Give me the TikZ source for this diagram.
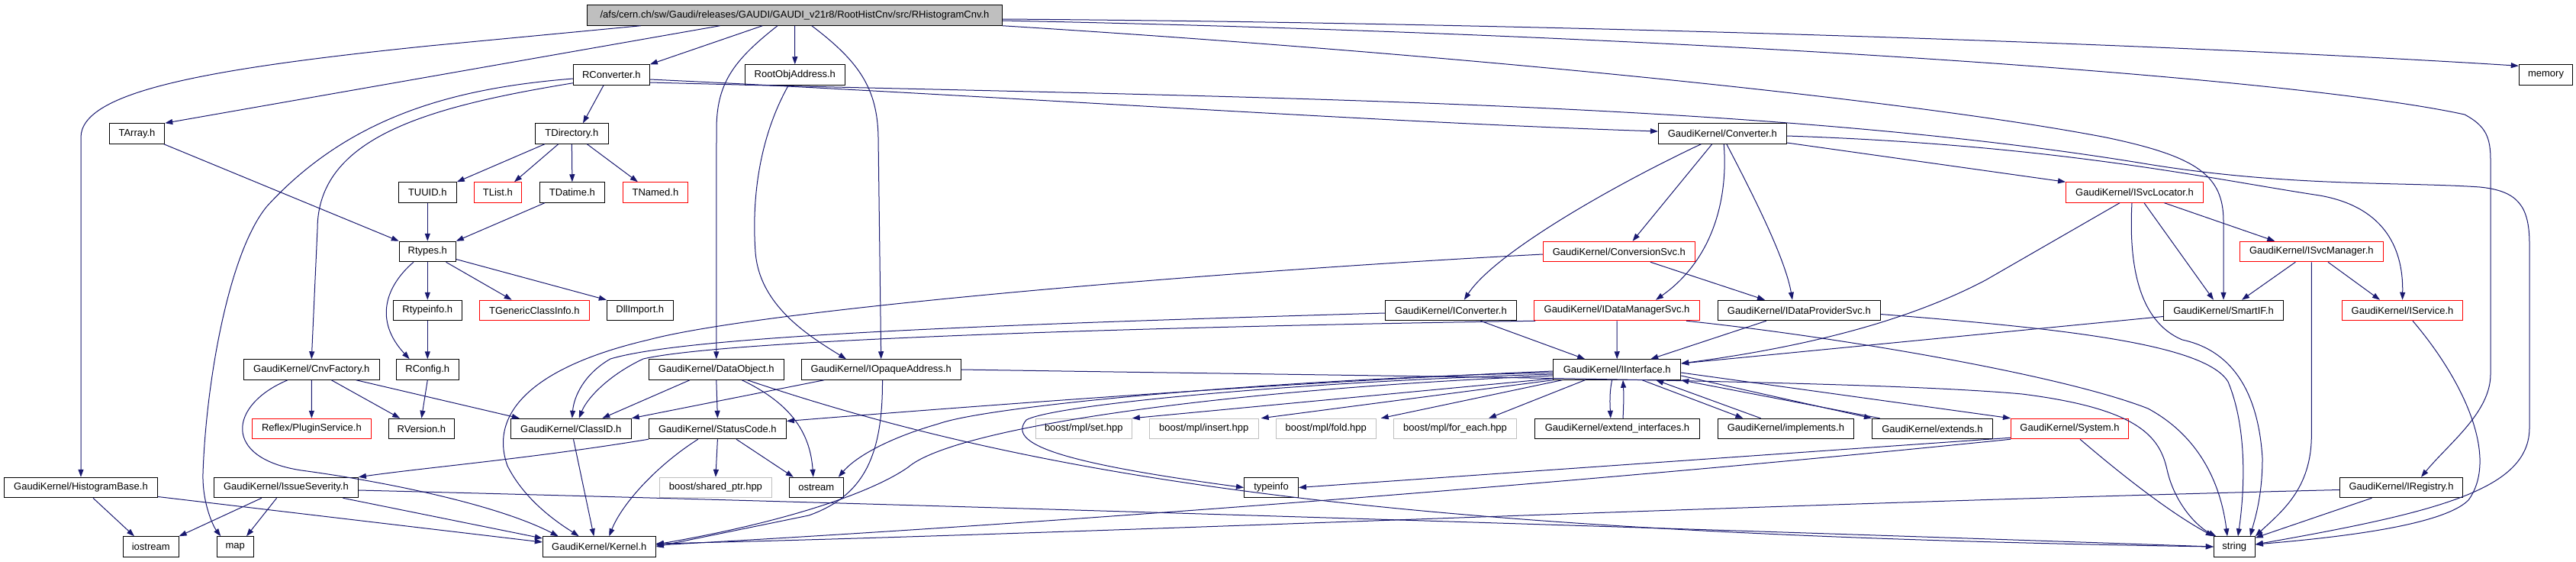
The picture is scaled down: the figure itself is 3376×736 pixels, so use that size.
\documentclass[tikz,border=0pt]{standalone}
\usepackage{fontspec}
\setmainfont{Liberation Sans}
\usetikzlibrary{arrows.meta,calc}
\definecolor{edgeblue}{RGB}{25,25,112}
\definecolor{boxgray}{RGB}{191,191,191}
\newcommand\dfont{\fontsize{13}{15}\selectfont}
\tikzset{
 box/.style={draw=black, line width=1pt, minimum height=26.5pt, inner sep=0pt, font=\dfont},
 redbox/.style={box, draw=red},
 graybox/.style={box, draw=boxgray},
 rootbox/.style={box, fill=boxgray},
 dep/.style={draw=edgeblue, line width=1pt, -{Triangle[length=10pt,width=7pt]}},
}
\begin{document}
\begin{tikzpicture}[x=1pt,y=-1pt]
\useasboundingbox (0,0) rectangle (3376,736);
\fill[white] (0,0) rectangle (3376,736);
% nodes
\node[rootbox, minimum width=544pt] (root) at (1041.5,20) {/afs/cern.ch/sw/Gaudi/releases/GAUDI/GAUDI\_v21r8/RootHistCnv/src/RHistogramCnv.h};
\node[box, minimum width=100pt] (rconv) at (801.4,98) {RConverter.h};
\node[box, minimum width=131pt] (rootobj) at (1041.8,98) {RootObjAddress.h};
\node[box, minimum width=70.5pt] (memory) at (3336.5,98) {memory};
\node[box, minimum width=72.5pt] (tarray) at (179.5,175) {TArray.h};
\node[box, minimum width=96pt] (tdir) at (749.4,175) {TDirectory.h};
\node[box, minimum width=168pt] (conv) at (2257.4,175) {GaudiKernel/Converter.h};
\node[box, minimum width=76pt] (tuuid) at (560.3,252) {TUUID.h};
\node[redbox, minimum width=62pt] (tlist) at (652.4,252) {TList.h};
\node[box, minimum width=85pt] (tdatime) at (749.9,252) {TDatime.h};
\node[redbox, minimum width=85pt] (tnamed) at (858.9,252) {TNamed.h};
\node[redbox, minimum width=180pt] (isvcloc) at (2797.5,252) {GaudiKernel/ISvcLocator.h};
\node[box, minimum width=74pt] (rtypes) at (560.3,329.5) {Rtypes.h};
\node[redbox, minimum width=199pt] (convsvc) at (2121.9,329.5) {GaudiKernel/ConversionSvc.h};
\node[redbox, minimum width=188pt] (isvcman) at (3029.3,329.5) {GaudiKernel/ISvcManager.h};
\node[box, minimum width=90pt] (rtypeinfo) at (560.3,406.5) {Rtypeinfo.h};
\node[redbox, minimum width=144pt] (tgeneric) at (700.3,406.5) {TGenericClassInfo.h};
\node[box, minimum width=87pt] (dllimport) at (838.8,406.5) {DllImport.h};
\node[box, minimum width=172pt] (iconv) at (1901.4,406.5) {GaudiKernel/IConverter.h};
\node[redbox, minimum width=217pt] (idms) at (2119,406.5) {GaudiKernel/IDataManagerSvc.h};
\node[box, minimum width=213pt] (idps) at (2357.8,406.5) {GaudiKernel/IDataProviderSvc.h};
\node[box, minimum width=157pt] (smartif) at (2914,406.5) {GaudiKernel/SmartIF.h};
\node[redbox, minimum width=158pt] (iservice) at (3148.5,406.5) {GaudiKernel/IService.h};
\node[box, minimum width=178pt] (cnvfac) at (408.3,484) {GaudiKernel/CnvFactory.h};
\node[box, minimum width=82pt] (rconfig) at (560.3,484) {RConfig.h};
\node[box, minimum width=177pt] (dataobj) at (938.8,484) {GaudiKernel/DataObject.h};
\node[box, minimum width=209pt] (iopaque) at (1154.7,484) {GaudiKernel/IOpaqueAddress.h};
\node[box, minimum width=167pt] (iinterface) at (2119.2,484) {GaudiKernel/IInterface.h};
\node[redbox, minimum width=156pt] (plugin) at (408.4,561.5) {Reflex/PluginService.h};
\node[box, minimum width=86pt] (rversion) at (552.4,561.5) {RVersion.h};
\node[box, minimum width=158pt] (classid) at (748.3,561.5) {GaudiKernel/ClassID.h};
\node[box, minimum width=180pt] (statuscode) at (940.4,561.5) {GaudiKernel/StatusCode.h};
\node[graybox, minimum width=126pt] (mplset) at (1420.3,561.5) {boost/mpl/set.hpp};
\node[graybox, minimum width=143pt] (mplinsert) at (1577.7,561.5) {boost/mpl/insert.hpp};
\node[graybox, minimum width=131pt] (mplfold) at (1737.7,561.5) {boost/mpl/fold.hpp};
\node[graybox, minimum width=161pt] (mplforeach) at (1907,561.5) {boost/mpl/for\_each.hpp};
\node[box, minimum width=216pt] (extendif) at (2119.5,561.5) {GaudiKernel/extend\_interfaces.h};
\node[box, minimum width=178pt] (implements) at (2340.4,561.5) {GaudiKernel/implements.h};
\node[box, minimum width=158pt] (extends) at (2532.4,561.5) {GaudiKernel/extends.h};
\node[redbox, minimum width=154pt] (system) at (2712.5,561.5) {GaudiKernel/System.h};
\node[box, minimum width=201pt] (histbase) at (106,638.5) {GaudiKernel/HistogramBase.h};
\node[box, minimum width=189pt] (issue) at (374.9,638.5) {GaudiKernel/IssueSeverity.h};
\node[graybox, minimum width=147pt] (sharedptr) at (937.9,638.5) {boost/shared\_ptr.hpp};
\node[box, minimum width=71pt] (ostream) at (1069.8,638.5) {ostream};
\node[box, minimum width=71pt] (typeinfo) at (1666,638.5) {typeinfo};
\node[box, minimum width=161pt] (iregistry) at (3147,638.5) {GaudiKernel/IRegistry.h};
\node[box, minimum width=73pt] (iostream) at (197.7,716) {iostream};
\node[box, minimum width=48pt] (map) at (308.3,716) {map};
\node[box, minimum width=148pt] (kernel) at (785.3,716) {GaudiKernel/Kernel.h};
\node[box, minimum width=54pt] (string) at (2928.3,716) {string};
% edges from root
\draw[dep] ($(root.south)+(-98,0)$) -- (tarray.north east);
\draw[dep] ($(root.south)+(-202,0)$) -- (563,60) .. controls (270,90) and (106,120) .. (106,180) -- (histbase.north);
\draw[dep] ($(root.south)+(-42.3,0)$) -- (rconv.north east);
\draw[dep] ($(root.south)+(-22.5,0)$) .. controls (960,80) and (939,110) .. (939,170) -- (dataobj.north);
\draw[dep] (root.south) -- (rootobj.north);
\draw[dep] ($(root.south)+(22.3,0)$) .. controls (1125,80) and (1150,115) .. (1151,180) -- (iopaque.north);
\draw[dep] ($(root.east)+(0,5)$) .. controls (2000,30) and (2800,55) .. ($(memory.north west)+(0,2)$);
\draw[dep] ($(root.east)+(0,7)$) .. controls (2200,45) and (3000,100) .. (3230,150) .. controls (3258,165) and (3264,180) .. (3264,210) -- (3264,490) .. controls (3264,540) and (3210,580) .. ($(iregistry.north)+(26,0)$);
\draw[dep] (root.south east) .. controls (1900,70) and (2500,130) .. (2760,180) .. controls (2880,205) and (2914,230) .. (2914,290) -- (smartif.north);
% RootObjAddress
\draw[dep] ($(rootobj.south)+(-8.5,0)$) .. controls (995,180) and (985,260) .. (990,330) .. controls (995,400) and (1060,440) .. ($(iopaque.north)+(-45.7,0)$);
% RConverter
\draw[dep] ($(rconv.south)+(-10.4,0)$) -- ($(tdir.north)+(14.6,0)$);
\draw[dep] ($(rconv.south west)+(0,-3)$) .. controls (560,140) and (416,180) .. (416,300) -- (cnvfac.north);
\draw[dep] ($(rconv.west)+(0,5)$) .. controls (600,115) and (460,150) .. (350,270) .. controls (300,330) and (270,500) .. (266,620) .. controls (265,660) and (280,690) .. ($(map.north)+(-19,0)$);
\draw[dep] ($(rconv.east)+(0,6)$) .. controls (1300,125) and (1800,160) .. ($(conv.west)+(0,-3)$);
\draw[dep] ($(rconv.east)+(0,10)$) .. controls (1600,128) and (2300,130) .. (2815,215) .. controls (3000,245) and (3150,238) .. (3250,245) .. controls (3300,250) and (3315,270) .. (3315,320) -- (3315,560) .. controls (3315,640) and (3200,670) .. ($(string.east)+(0,-3)$);
% Converter
\draw[dep] ($(conv.south)+(-28,0)$) .. controls (2120,240) and (1960,330) .. ($(iconv.north)+(17.4,0)$);
\draw[dep] ($(conv.south)+(-13.7,0)$) -- ($(convsvc.north)+(17.7,0)$);
\draw[dep] ($(conv.south)+(1.8,0)$) .. controls (2265,260) and (2245,340) .. ($(idms.north)+(51,0)$);
\draw[dep] ($(conv.south)+(5.4,0)$) .. controls (2300,260) and (2340,340) .. ($(idps.north)+(-8.8,0)$);
\draw[dep] ($(conv.east)+(0,12)$) -- (isvcloc.north west);
\draw[dep] ($(conv.east)+(0,3)$) .. controls (2700,190) and (2900,235) .. (3040,256) .. controls (3120,270) and (3150,320) .. (iservice.north);
% ConversionSvc
\draw[dep] ($(convsvc.west)+(0,3.5)$) .. controls (1600,355) and (1000,405) .. (850,445) .. controls (700,480) and (640,540) .. (665,610) .. controls (690,660) and (740,690) .. ($(kernel.north)+(-26.6,0)$);
\draw[dep] ($(convsvc.south)+(41,0)$) -- ($(idps.north)+(-44.8,0)$);
% IConverter, IDataManagerSvc, IDataProviderSvc
\draw[dep] ($(iconv.west)+(0,3.5)$) .. controls (1300,425) and (900,440) .. (800,470) .. controls (765,490) and (752,520) .. ($(classid.north)+(1.5,0)$);
\draw[dep] ($(idms.south west)+(2,0)$) .. controls (1500,428) and (950,445) .. (843,470) .. controls (800,490) and (770,520) .. ($(classid.north)+(10.5,0)$);
\draw[dep] ($(iconv.south)+(39,0)$) -- ($(iinterface.north)+(-42,0)$);
\draw[dep] (idms.south) -- (iinterface.north);
\draw[dep] ($(idms.south east)+(-18,0)$) .. controls (2400,440) and (2700,490) .. (2815,535) .. controls (2880,570) and (2910,630) .. ($(string.north)+(-9.3,0)$);
\draw[dep] ($(idps.south)+(-43,0)$) -- ($(iinterface.north)+(44,0)$);
\draw[dep] ($(idps.east)+(0,5)$) .. controls (2700,430) and (2890,450) .. (2920,500) .. controls (2945,560) and (2942,640) .. ($(string.north)+(4.7,0)$);
% ISvcLocator, ISvcManager, SmartIF, IService, IRegistry
\draw[dep] ($(isvcloc.south)+(39,0)$) -- ($(isvcman.north)+(-48,0)$);
\draw[dep] ($(isvcloc.south)+(12.5,0)$) -- ($(smartif.north)+(-13,0)$);
\draw[dep] ($(isvcloc.south)+(-19.5,0)$) -- (2602,367) .. controls (2520,410) and (2400,450) .. ($(iinterface.east)+(0,-8)$);
\draw[dep] ($(isvcloc.south)+(-3.5,0)$) .. controls (2790,340) and (2800,420) .. (2860,445) .. controls (2930,460) and (2960,520) .. (2965,600) .. controls (2965,650) and (2955,680) .. ($(string.north)+(20.7,0)$);
\draw[dep] ($(isvcman.south)+(-21,0)$) -- ($(smartif.north)+(24,0)$);
\draw[dep] ($(isvcman.south)+(21.7,0)$) -- ($(iservice.north)+(-29.5,0)$);
\draw[dep] (isvcman.south) -- (3029.3,570) .. controls (3029.3,640) and (2990,670) .. (string.north east);
\draw[dep] ($(smartif.west)+(0,8)$) -- ($(iinterface.east)+(0,-8)$);
\draw[dep] ($(iservice.south)+(13.5,0)$) .. controls (3230,500) and (3275,600) .. (3235,655) .. controls (3200,690) and (3050,705) .. ($(string.east)+(0,-3)$);
\draw[dep] ($(iregistry.south)+(-38.6,0)$) -- ($(string.north east)+(0,2)$);
\draw[dep] ($(iregistry.west)+(0,3)$) .. controls (2300,660) and (1400,700) .. ($(kernel.east)+(0,-4)$);
% ROOT headers
\draw[dep] ($(tarray.south east)+(-1.5,0)$) -- (rtypes.north west);
\draw[dep] ($(tdir.south)+(-35.6,0)$) -- (tuuid.north east);
\draw[dep] ($(tdir.south)+(-17.7,0)$) -- ($(tlist.north)+(21.6,0)$);
\draw[dep] (tdir.south) -- (tdatime.north);
\draw[dep] ($(tdir.south)+(20,0)$) -- ($(tnamed.north)+(-23,0)$);
\draw[dep] (tuuid.south) -- (rtypes.north);
\draw[dep] ($(tdatime.south)+(-36,0)$) -- (rtypes.north east);
\draw[dep] (rtypes.south) -- (rtypeinfo.north);
\draw[dep] ($(rtypes.south)+(-18.3,0)$) .. controls (505,375) and (490,420) .. ($(rconfig.north)+(-23.6,0)$);
\draw[dep] ($(rtypes.south)+(24.2,0)$) -- ($(tgeneric.north)+(-29.6,0)$);
\draw[dep] ($(rtypes.east)+(0,10)$) -- (dllimport.north west);
\draw[dep] (rtypeinfo.south) -- (rconfig.north);
\draw[dep] (rconfig.south) -- (rversion.north);
% CnvFactory
\draw[dep] (cnvfac.south) -- (plugin.north);
\draw[dep] ($(cnvfac.south)+(26,0)$) -- ($(rversion.north)+(-28.2,0)$);
\draw[dep] ($(cnvfac.south)+(58.4,0)$) -- ($(classid.north west)+(12,0)$);
\draw[dep] ($(cnvfac.south)+(-31.3,0)$) .. controls (300,530) and (290,600) .. (395,616) .. controls (500,630) and (650,660) .. ($(kernel.north)+(-53.6,0)$);
% HistogramBase, IssueSeverity
\draw[dep] ($(histbase.south)+(16,0)$) -- ($(iostream.north)+(-21.7,0)$);
\draw[dep] ($(histbase.east)+(0,12)$) -- ($(kernel.west)+(0,-6)$);
\draw[dep] ($(issue.south)+(-32,0)$) -- (iostream.north east);
\draw[dep] ($(issue.south)+(-12.3,0)$) -- ($(map.north)+(14.7,0)$);
\draw[dep] ($(issue.south east)+(-20.5,0)$) -- ($(kernel.west)+(0,-11)$);
\draw[dep] ($(issue.east)+(0,3.5)$) .. controls (1200,660) and (2300,695) .. (string.west);
% StatusCode, ClassID, DataObject
\draw[dep] (statuscode.south west) .. controls (700,600) and (560,612) .. (issue.north east);
\draw[dep] (statuscode.south) -- (sharedptr.north);
\draw[dep] ($(statuscode.south)+(24.6,0)$) -- ($(ostream.north west)+(6,0)$);
\draw[dep] ($(statuscode.south)+(-25.6,0)$) .. controls (860,610) and (815,660) .. ($(kernel.north)+(13,0)$);
\draw[dep] ($(classid.south)+(3.2,0)$) -- ($(kernel.north)+(-7,0)$);
\draw[dep] ($(dataobj.south)+(-34.8,0)$) -- ($(classid.north)+(41,0)$);
\draw[dep] (dataobj.south) -- (statuscode.north);
\draw[dep] ($(dataobj.south)+(33.5,0)$) .. controls (1040,530) and (1062,570) .. ($(ostream.north)+(-4,0)$);
\draw[dep] ($(dataobj.south)+(40.6,0)$) .. controls (1400,640) and (1900,700) .. (string.west);
% IOpaqueAddress
\draw[dep] ($(iopaque.south)+(-74.7,0)$) -- (classid.north east);
\draw[dep] ($(iopaque.south)+(1.8,0)$) .. controls (1157,600) and (1130,650) .. (1060,675) -- (kernel.east);
\draw[dep] (iopaque.east) .. controls (1900,494) and (2450,498) .. (2650,516) .. controls (2800,535) and (2830,570) .. (2840,615) .. controls (2850,660) and (2880,690) .. ($(string.north)+(-24,0)$);
% IInterface
\draw[dep] ($(iinterface.south west)+(0,-2)$) -- (mplset.north east);
\draw[dep] (iinterface.south west) -- ($(mplinsert.north east)+(3,0)$);
\draw[dep] ($(iinterface.south west)+(12,0)$) -- ($(mplfold.north east)+(6,0)$);
\draw[dep] ($(iinterface.south)+(-42,0)$) -- ($(mplforeach.north)+(44,0)$);
\draw[dep] ($(iinterface.south)+(-6.6,0)$) .. controls (2109,515) and (2110,530) .. ($(extendif.north)+(-8.7,0)$);
\draw[dep] ($(extendif.north)+(7.5,0)$) .. controls (2128,530) and (2128,515) .. ($(iinterface.south)+(7.8,0)$);
\draw[dep] ($(iinterface.south)+(33,0)$) -- ($(implements.north)+(-56,0)$);
\draw[dep] ($(implements.north)+(-32.8,0)$) -- ($(iinterface.south)+(51,0)$);
\draw[dep] ($(iinterface.east)+(0,8)$) -- (extends.north west);
\draw[dep] ($(extends.north west)+(10.6,0)$) -- (iinterface.south east);
\draw[dep] ($(iinterface.east)+(0,4)$) -- (system.north west);
\draw[dep] ($(iinterface.west)+(0,6)$) .. controls (1700,500) and (1380,530) .. (1345,550) .. controls (1320,580) and (1380,605) .. (typeinfo.west);
\draw[dep] ($(iinterface.west)+(0,4)$) .. controls (1700,495) and (1300,530) .. (1230,555) .. controls (1160,575) and (1120,600) .. ($(ostream.north east)+(-7,0)$);
\draw[dep] ($(iinterface.west)+(0,8)$) .. controls (1600,510) and (1250,560) .. (1190,612) .. controls (1150,640) and (1050,680) .. ($(kernel.east)+(0,-3)$);
\draw[dep] ($(iinterface.west)+(0,2)$) .. controls (1700,500) and (1300,530) .. ($(statuscode.east)+(0,-10)$);
% System
\draw[dep] ($(system.south west)+(0,-2)$) -- (typeinfo.east);
\draw[dep] (system.south west) .. controls (2000,640) and (1300,690) .. ($(kernel.east)+(0,-2)$);
\draw[dep] ($(system.south)+(13.5,0)$) .. controls (2790,630) and (2850,675) .. (string.north west);
\end{tikzpicture}
\end{document}
